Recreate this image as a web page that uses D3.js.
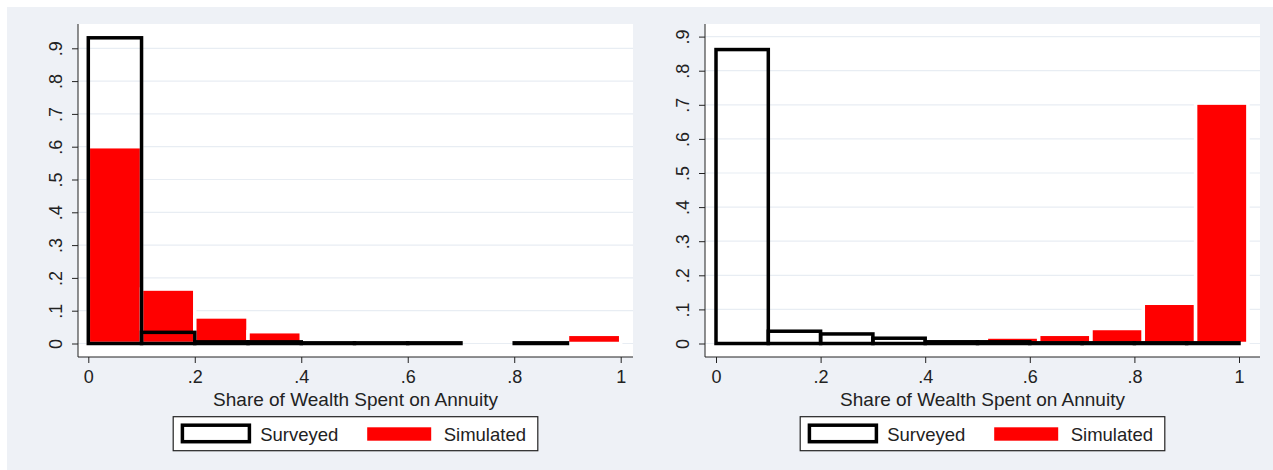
<!DOCTYPE html>
<html lang="en">
<head>
<meta charset="UTF-8">
<title>Share of Wealth Spent on Annuity</title>
<script src="https://d3js.org/d3.v7.min.js"></script>
<style>
    body { margin: 0; background: #fff; }
    svg { display: block; font-family: "Liberation Sans", Arial, sans-serif; }
    .tick text { fill: #222; font-size: 18px; }
    .tick line { stroke: #222; }
</style>
</head>
<body>
<div id="chart"></div>
<script>
// Histogram bin starts (width .1) and densities
const binStarts = [0, 0.1, 0.2, 0.3, 0.4, 0.5, 0.6, 0.7, 0.8, 0.9];
const leftSurveyed = [0.932, 0.034, 0.005, 0.005, 0.002, 0.002, 0.002, 0, 0.002, 0];
const leftSimulated = [0.60, 0.166, 0.081, 0.036, 0, 0, 0, 0, 0, 0.028];
const rightSurveyed = [0.862, 0.036, 0.028, 0.0155, 0.005, 0.005, 0.002, 0.002, 0.002, 0.002];
// simulated bins in the right panel start slightly later
const rightSimStarts = [0.517, 0.617, 0.717, 0.817, 0.917];
const rightSimulated = [0.019, 0.027, 0.044, 0.118, 0.705];

const binWidth = 0.1;
const yTicks = [0, 0.1, 0.2, 0.3, 0.4, 0.5, 0.6, 0.7, 0.8, 0.9];
const yTickLabels = ["0", ".1", ".2", ".3", ".4", ".5", ".6", ".7", ".8", ".9"];
const xTicks = [0, 0.2, 0.4, 0.6, 0.8, 1];
const xTickLabels = ["0", ".2", ".4", ".6", ".8", "1"];
const legendItems = ["Surveyed", "Simulated"];
const xTitle = "Share of Wealth Spent on Annuity";

const W = 1273, H = 470;
const svg = d3.select("#chart").append("svg")
    .attr("width", W)
    .attr("height", H);

// outer light panel
svg.append("rect")
    .attr("x", 7).attr("y", 7)
    .attr("width", W - 7).attr("height", H - 7)
    .attr("fill", "#eef1f6");

const panels = [
    {left: 78, right: 633, top: 24, bottom: 357, x0: 88.3, x1: 620.7, yZero: 343.5, yNine: 48.3,
     surveyed: binStarts.map((s, i) => ({s, v: leftSurveyed[i]})),
     simulated: binStarts.map((s, i) => ({s, v: leftSimulated[i]}))},
    {left: 705, right: 1260, top: 24, bottom: 357, x0: 716, x1: 1239, yZero: 343.5, yNine: 36.6,
     surveyed: binStarts.map((s, i) => ({s, v: rightSurveyed[i]})),
     simulated: rightSimStarts.map((s, i) => ({s, v: rightSimulated[i]}))}
];

panels.forEach(p => {
    const x = d3.scaleLinear().domain([0, 1]).range([p.x0, p.x1]);
    const y = d3.scaleLinear().domain([0, 0.9]).range([p.yZero, p.yNine]);
    const g = svg.append("g");

    // plot region
    g.append("rect")
        .attr("x", p.left).attr("y", p.top)
        .attr("width", p.right - p.left).attr("height", p.bottom - p.top)
        .attr("fill", "#fff");

    // grid lines
    g.selectAll(".grid")
        .data(yTicks)
        .enter().append("line")
        .attr("x1", p.left).attr("x2", p.right)
        .attr("y1", d => y(d)).attr("y2", d => y(d))
        .attr("stroke", "#e8edf3")
        .attr("stroke-width", 1.2);

    // simulated bars: red with white outline
    g.selectAll(".sim")
        .data(p.simulated.filter(d => d.v > 0))
        .enter().append("rect")
        .attr("x", d => x(d.s))
        .attr("width", d => x(d.s + binWidth) - x(d.s))
        .attr("y", d => y(d.v))
        .attr("height", d => y(0) - y(d.v))
        .attr("fill", "#ff0000")
        .attr("stroke", "#fff")
        .attr("stroke-width", 3.5);

    // surveyed bars: thick black outline
    g.selectAll(".surv")
        .data(p.surveyed.filter(d => d.v > 0))
        .enter().append("rect")
        .attr("x", d => x(d.s))
        .attr("width", d => x(d.s + binWidth) - x(d.s))
        .attr("y", d => y(d.v))
        .attr("height", d => y(0) - y(d.v))
        .attr("fill", "none")
        .attr("stroke", "#000")
        .attr("stroke-width", 3.5);

    // axes
    const yAxis = g.append("g")
        .attr("transform", "translate(" + p.left + ",0)")
        .call(d3.axisLeft(y).tickValues(yTicks).tickSize(6)
            .tickFormat((d, i) => yTickLabels[i]));
    yAxis.select(".domain").remove();
    yAxis.selectAll(".tick text")
        .attr("x", null).attr("dy", null)
        .attr("text-anchor", "middle")
        .attr("transform", "translate(-16.5,0) rotate(-90)");

    const xAxis = g.append("g")
        .attr("transform", "translate(0," + p.bottom + ")")
        .call(d3.axisBottom(x).tickValues(xTicks).tickSize(6)
            .tickFormat((d, i) => xTickLabels[i]));
    xAxis.select(".domain").remove();
    xAxis.selectAll(".tick text")
        .attr("y", 26).attr("dy", null);

    g.append("line")
        .attr("x1", p.left).attr("x2", p.left)
        .attr("y1", p.top).attr("y2", p.bottom)
        .attr("stroke", "#222");
    g.append("line")
        .attr("x1", p.left).attr("x2", p.right)
        .attr("y1", p.bottom).attr("y2", p.bottom)
        .attr("stroke", "#222");

    const cx = (p.left + p.right) / 2;
    g.append("text")
        .attr("x", cx).attr("y", 406)
        .attr("text-anchor", "middle")
        .attr("font-size", 19)
        .attr("fill", "#222")
        .text(xTitle);

    // legend
    const lx = cx - 182.3;
    const legend = g.append("g").attr("transform", "translate(" + lx + ",416.7)");
    legend.append("rect")
        .attr("width", 364.6).attr("height", 34)
        .attr("fill", "#fff")
        .attr("stroke", "#222")
        .attr("stroke-width", 1.2);
    legend.append("rect")
        .attr("x", 9.2).attr("y", 8.5)
        .attr("width", 67).attr("height", 16.5)
        .attr("fill", "#fff")
        .attr("stroke", "#000")
        .attr("stroke-width", 3.5);
    legend.append("rect")
        .attr("x", 194).attr("y", 10.6)
        .attr("width", 64).attr("height", 13.4)
        .attr("fill", "#ff0000");
    legend.selectAll(".lab")
        .data(legendItems)
        .enter().append("text")
        .attr("x", (d, i) => i === 0 ? 87 : 270.5)
        .attr("y", 24.5)
        .attr("font-size", 18.5)
        .attr("fill", "#222")
        .text(d => d);
});
</script>
</body>
</html>
